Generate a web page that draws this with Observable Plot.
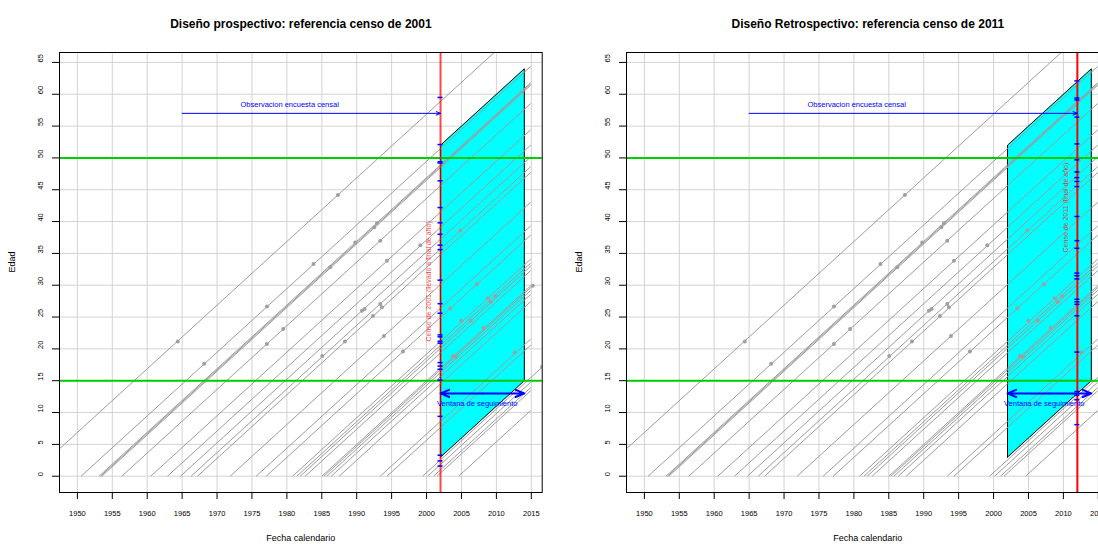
<!DOCTYPE html>
<html><head><meta charset="utf-8">
<script src="https://cdn.jsdelivr.net/npm/d3@7"></script>
<script src="https://cdn.jsdelivr.net/npm/@observablehq/plot@0.6"></script>
<style>
html,body{margin:0;padding:0;background:#fff;overflow:hidden;}
#wrap{position:relative;width:1098px;height:544px;overflow:hidden;}
#wrap svg{position:absolute;top:0;}
</style></head><body><div id="wrap"></div>
<script>
// Trayectorias de vida (año de nacimiento y fin de observación)
const nacimiento = [1943.13, 1950.53, 1953.1, 1953.3, 1953.5, 1956.36, 1960.51, 1962.9, 1964.76, 1966.29, 1967.2, 1971.88, 1975.6, 1977.04, 1980.81, 1981.43, 1981.91, 1982.62, 1985.01, 1985.3, 1985.73, 1986.35, 1987.49, 1993.37, 1994.33, 1999.43, 2000.15, 2001.0, 2001.49, 2004.59];
const finObs = [2014.9, 2014.9, 2014.9, 2014.9, 2014.9, 2014.9, 2014.9, 2014.9, 2014.9, 2014.9, 2014.9, 2014.9, 2014.9, 2014.9, 2014.9, 2014.9, 2014.9, 2014.9, 2014.9, 2015.22, 2014.9, 2014.9, 2014.9, 2014.9, 2014.9, 2016.53, 2014.9, 2014.9, 2014.9, 2014.9];
// Eventos (puntos)
const eventoAnio = [1987.31, 1983.81, 1986.21, 1989.79, 1993.37, 1992.9, 1992.51, 1977.14, 1979.47, 1977.14, 1964.38, 1968.15, 1990.75, 1991.12, 1992.32, 1993.37, 1993.61, 1988.31, 1985.06, 1993.9, 1996.62, 2003.4, 2004.97, 2006.33, 2007.22, 2008.17, 2008.77, 2009.2, 2009.84, 2003.78, 2004.26, 2012.61, 2015.22, 2016.53, 2004.83, 1999.1, 1994.33];
const eventoEdad = [44.18, 33.34, 32.81, 36.73, 37.0, 39.72, 39.09, 26.64, 23.14, 20.78, 21.15, 17.65, 26.01, 26.28, 25.15, 27.06, 26.56, 21.15, 18.9, 22.01, 19.58, 26.37, 24.41, 24.44, 30.17, 23.31, 27.97, 27.35, 28.29, 18.87, 18.71, 19.45, 29.91, 17.19, 38.6, 36.3, 33.83];
// Edades observadas en cada censo
const edadCenso2001 = [59.5, 52.1, 49.4, 49.2, 46.4, 42.2, 39.8, 38.0, 36.3, 35.6, 30.8, 27.1, 25.6, 22.2, 21.9, 21.2, 20.9, 17.85, 17.3, 16.8, 15.1, 9.4, 3.3, 2.4, 1.6];
const edadCenso2011 = [62.1, 59.4, 59.1, 56.4, 52.2, 49.7, 47.8, 46.9, 46.3, 45.5, 40.8, 37.0, 35.8, 31.9, 31.5, 31.0, 27.8, 27.4, 27.0, 25.2, 19.5, 13.3, 12.7, 12.0, 8.1];
// Ventana de seguimiento
const ventanaAnio = [2002, 2002, 2014, 2014, 2002];
const ventanaEdad = [3, 52, 64, 15, 3];
const ventanaInicio = 2002, ventanaFin = 2014, ventanaEdadFlecha = 13;
const limitesEdad = [15, 50];
const obsInicio = 1965, obsEdad = 57;
const ticksX = [1950, 1955, 1960, 1965, 1970, 1975, 1980, 1985, 1990, 1995, 2000, 2005, 2010, 2015];
const ticksY = [0, 5, 10, 15, 20, 25, 30, 35, 40, 45, 50, 55, 60, 65];
const dominioX = [1947.44, 2016.56];
const dominioY = [-2.56, 66.56];

const personas = nacimiento.map((b, i) => ({b, e: finObs[i]}));
const eventos = eventoAnio.map((a, i) => ({a, edad: eventoEdad[i]}));
const ventana = ventanaAnio.map((a, i) => ({a, edad: ventanaEdad[i]}));

const font = "Liberation Sans, Arial, Helvetica, sans-serif";

function panel({titulo, censo, edades, etiqueta, etqX, etqY, redOp, marginLeft, width}) {
  return Plot.plot({
    width, height: 544,
    marginLeft, marginRight: width - marginLeft - 482.7, marginTop: 52, marginBottom: 52,
    style: {fontFamily: font, background: "white", overflow: "visible"},
    x: {domain: dominioX, ticks: ticksX, tickSize: 7, tickFormat: () => "", label: null},
    y: {domain: dominioY, ticks: ticksY, tickSize: 7, tickFormat: () => "", label: null},
    marks: [
      Plot.ruleX(ticksX, {x: d => d, stroke: "#d3d3d3", strokeWidth: 1}),
      Plot.ruleY(ticksY, {y: d => d, stroke: "#d3d3d3", strokeWidth: 1}),
      Plot.line(ventana, {x: "a", y: "edad", fill: "#00ffff", stroke: "black", strokeWidth: 1}),
      Plot.link(personas, {x1: "b", y1: () => 0, x2: "e", y2: d => d.e - d.b, stroke: "#9c9c9c", strokeWidth: 1, clip: true}),
      Plot.dot(eventos, {x: "a", y: "edad", r: 2, fill: "#a0a0a0", clip: true}),
      Plot.ruleY(limitesEdad, {y: d => d, stroke: "#00cd00", strokeWidth: 2}),
      Plot.ruleX([censo], {x: d => d, stroke: "red", strokeWidth: 2, strokeOpacity: redOp}),
      Plot.ruleY(edades, {y: d => d, x1: censo - 0.36, x2: censo + 0.36, stroke: "blue", strokeWidth: 1.5}),
      Plot.arrow([{x1: obsInicio, x2: censo, y: obsEdad}], {x1: "x1", x2: "x2", y1: "y", y2: "y", stroke: "blue", strokeWidth: 1, headLength: 7, headAngle: 45}),
      Plot.arrow([{x1: (ventanaInicio + ventanaFin) / 2, x2: ventanaInicio}, {x1: (ventanaInicio + ventanaFin) / 2, x2: ventanaFin}], {x1: "x1", x2: "x2", y1: () => ventanaEdadFlecha, y2: () => ventanaEdadFlecha, stroke: "blue", strokeWidth: 2, headLength: 7, headAngle: 45}),
      Plot.text(["Observacion encuesta censal"], {x: () => 1980.4, y: () => 58.4, text: d => d, fill: "blue", fontSize: 7.5}),
      Plot.text(["Ventana de seguimiento"], {x: () => 2007.25, y: () => 11.4, text: d => d, fill: "blue", fontSize: 7.5}),
      Plot.text([etiqueta], {x: () => etqX, y: () => etqY, text: d => d, rotate: -90, fill: "red", fillOpacity: 0.75, fontSize: 7}),
      Plot.frame({stroke: "black"}),
      Plot.text(ticksX, {x: d => d, text: d => String(d), frameAnchor: "bottom", dy: 23, fontSize: 7.5, fill: "black"}),
      Plot.text(ticksY, {y: d => d, text: d => String(d), frameAnchor: "left", dx: -19, rotate: -90, fontSize: 7.5, fill: "black"}),
      Plot.text([titulo], {text: d => d, frameAnchor: "top", dy: -33, fontWeight: "bold", fontSize: 12, fill: "black"}),
      Plot.text(["Fecha calendario"], {text: d => d, frameAnchor: "bottom", dy: 48, fontSize: 9, fill: "black"}),
      Plot.text(["Edad"], {text: d => d, frameAnchor: "left", dx: -47, rotate: -90, fontSize: 9, fill: "black"})
    ]
  });
}

const wrap = document.getElementById("wrap");
const p1 = panel({titulo: "Diseño prospectivo: referencia censo de 2001", censo: 2002, edades: edadCenso2001,
  etiqueta: "Censo de 2001 (llevado a final de año)", etqX: 2000.27, etqY: 30.6, redOp: 0.72, marginLeft: 59, width: 549});
p1.style.left = "0px";
wrap.appendChild(p1);
const p2 = panel({titulo: "Diseño Retrospectivo: referencia censo de 2011", censo: 2012, edades: edadCenso2011,
  etiqueta: "Censo de 2011 (final de año)", etqX: 2010.33, etqY: 42.2, redOp: 1, marginLeft: 77, width: 567});
p2.style.left = "549px";
wrap.appendChild(p2);
</script></body></html>
